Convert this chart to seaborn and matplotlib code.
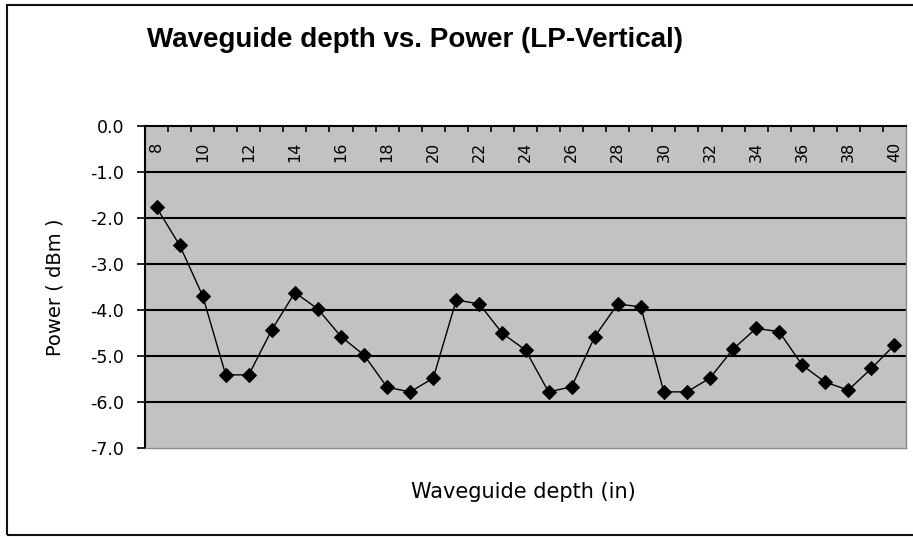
import matplotlib
matplotlib.use("Agg")
import matplotlib.pyplot as plt
from matplotlib.patches import Rectangle
import seaborn as sns
import pandas as pd

# waveguide depth (in) and measured power (dBm)
depth = list(range(8, 41))
power = [-1.77, -2.59, -3.69, -5.41, -5.41, -4.43, -3.62, -3.98, -4.58, -4.98,
         -5.68, -5.78, -5.48, -3.78, -3.87, -4.51, -4.87, -5.78, -5.67, -4.58,
         -3.87, -3.93, -5.78, -5.78, -5.48, -4.85, -4.40, -4.47, -5.20, -5.57,
         -5.74, -5.27, -4.76]
x_labels = list(range(8, 41, 2))
y_ticks = [0, -1, -2, -3, -4, -5, -6, -7]

df = pd.DataFrame({"depth": depth, "power": power})

sns.set_style("white")
plt.rcParams["font.family"] = ["DejaVu Sans"]
plt.rcParams.update({"text.color": "black", "axes.labelcolor": "black",
                     "xtick.color": "black", "ytick.color": "black"})

fig = plt.figure(figsize=(9.13, 5.37), dpi=100)
W, H = 913, 537
ax = fig.add_axes([145 / W, (H - 448) / H, 761 / W, 322 / H])
ax.set_facecolor("#c2c2c2")

# chart border
fig.patches.append(Rectangle((7 / W, 2 / H), 1.0, (H - 7) / H, transform=fig.transFigure,
                             fill=False, edgecolor="#111111", linewidth=1.5))

for v in y_ticks[1:-1]:
    ax.axhline(v, color="black", linewidth=1.5, zorder=1)

sns.lineplot(data=df, x="depth", y="power", ax=ax, color="black", linewidth=1.0,
             marker="D", markersize=7, markeredgecolor="black", zorder=3)

ax.set_xlim(7.5, 40.5)
ax.set_ylim(-7, 0)

# x axis sits at the top (0.0) with labels hanging inside the plot
ax.xaxis.tick_top()
ax.set_xticks(x_labels)
ax.set_xticklabels([str(v) for v in x_labels], rotation=90, fontsize=11.5)
ax.set_xticks([v + 0.5 for v in depth[:-1]], minor=True)
ax.tick_params(axis="x", which="major", length=0, pad=-11.5, top=True, labeltop=True,
               labelbottom=False, bottom=False)
ax.tick_params(axis="x", which="minor", length=4, direction="in", width=1.2,
               top=True, bottom=False, color="black")
for lab in ax.get_xticklabels():
    lab.set_verticalalignment("top")

ax.set_yticks(y_ticks)
ax.set_yticklabels([f"{v:.1f}" for v in y_ticks], fontsize=12.5)
ax.tick_params(axis="y", length=6, width=1.2, pad=9, left=True, color="black")

for side in ["left", "top"]:
    ax.spines[side].set_color("black")
    ax.spines[side].set_linewidth(1.5)
for side in ["right", "bottom"]:
    ax.spines[side].set_color("#8a8a8a")
    ax.spines[side].set_linewidth(1.0)

ax.set_xlabel("")
ax.set_ylabel("Power ( dBm )", fontsize=14)
ax.yaxis.set_label_coords((55 - 145) / 761, 0.5)
ax.yaxis.label.set_verticalalignment("center")
fig.text(523 / W, 1 - 492 / H, "Waveguide depth (in)", ha="center", va="center", fontsize=15)
fig.text(415 / W, 1 - 40 / H, "Waveguide depth vs. Power (LP-Vertical)", ha="center",
         va="center", fontsize=20, fontweight="bold", family=["Liberation Sans", "DejaVu Sans"])

fig.savefig("out.png", dpi=100)
